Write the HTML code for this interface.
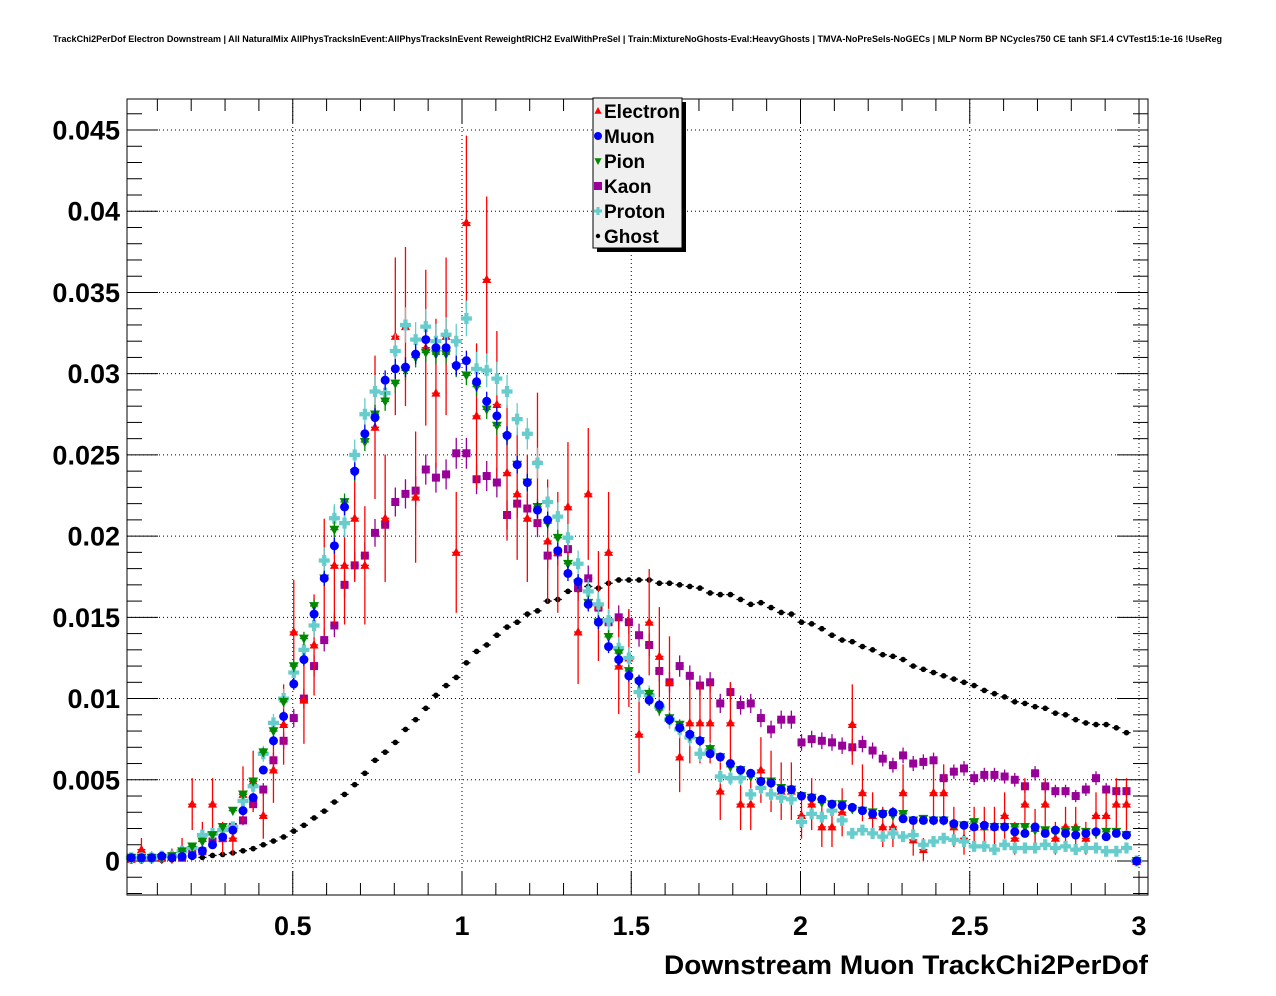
<!DOCTYPE html>
<html><head><meta charset="utf-8"><style>
html,body{margin:0;padding:0;background:#fff;}
svg{display:block;font-family:"Liberation Sans",sans-serif;}
</style></head><body>
<svg id="chart" width="1276" height="996" viewBox="0 0 1276 996">
<text x="53" y="42" textLength="1169" lengthAdjust="spacingAndGlyphs" font-size="9" font-weight="bold">TrackChi2PerDof Electron Downstream | All NaturalMix AllPhysTracksInEvent:AllPhysTracksInEvent ReweightRICH2 EvalWithPreSel | Train:MixtureNoGhosts-Eval:HeavyGhosts | TMVA-NoPreSels-NoGECs | MLP Norm BP NCycles750 CE tanh SF1.4 CVTest15:1e-16 !UseReg</text>
<g id="grid"></g>
<g id="axes"></g>
<g id="marks"></g>
<rect x="127" y="99" width="1021" height="796" fill="none" stroke="#000" stroke-width="1"/>
<text x="664" y="974" textLength="484" lengthAdjust="spacingAndGlyphs" font-size="27" font-weight="bold">Downstream Muon TrackChi2PerDof</text>
<g id="legend"></g>
</svg>
<script>
const NS="http://www.w3.org/2000/svg";
const electron=[.0001,.0007,.0002,.0002,.0003,.0007,.0035,.0014,.0035,.0014,.0014,.0041,.0049,.0028,.0056,.0084,.0141,.0099,.0133,.0175,.0182,.0182,.0211,.0182,.0267,.0211,.0323,.0329,.0224,.0316,.0288,.0323,.019,
.0393,.0274,.0358,.0281,.0239,.0226,.0211,.0246,.0197,.019,.0218,.0141,.0226,.0157,.019,.012,.0125,.0078,.0147,.0126,.011,.0064,.0085,.0085,.0085,.0043,.0085,.0035,.0035,.0056,.0049,.0043,.0043,
.0028,.0035,.0021,.0021,.003,.0084,.0042,.0028,.0021,.0021,.0042,.0013,.0007,.0042,.0042,.0021,.0014,.0021,.0021,.0021,.0028,.0014,.0035,.002,.0035,.0014,.0021,.0021,.0014,.0028,.0028,.0035,.0035,0];
const muon=[.0002,.0002,.0002,.0003,.0002,.00027,.00034,.00063,.001,.00148,.0019,.0031,.0039,.0056,.0074,.0089,.0109,.0124,.0152,.0174,.0194,.0218,.024,.0263,.0273,.0296,.0303,.0304,.0312,.0321,.0316,.0316,.0305,
.0308,.0295,.0283,.0274,.0262,.0244,.0233,.0216,.021,.0191,.0177,.0172,.0158,.0147,.0132,.0124,.0114,.0111,.0099,.0096,.0087,.0082,.0078,.0074,.0066,.0064,.006,.0056,.0054,.0049,.0048,.0044,.0044,
.004,.0039,.0038,.0035,.0034,.0033,.0031,.0029,.0029,.003,.0026,.0025,.0025,.0025,.0025,.0023,.0022,.0021,.0022,.0021,.0021,.0018,.0017,.0021,.0017,.0019,.0017,.0016,.0017,.0018,.0015,.0017,.0016,0];
const pion=[.0002,.0002,.0002,.0002,.0003,.0006,.0009,.0012,.0016,.0021,.0031,.0041,.0049,.0067,.008,.0098,.012,.0137,.0157,.0174,.0204,.0221,.0239,.0258,.0275,.0283,.0294,.0302,.031,.0313,.0312,.0312,.0304,
.0299,.0292,.0278,.0268,.0261,.0244,.0233,.0218,.0208,.0199,.0183,.0171,.0159,.0147,.0138,.0128,.0117,.011,.0103,.0093,.0088,.0084,.0077,.0074,.0069,.0064,.0058,.0056,.0052,.0049,.0049,.0045,.0044,
.004,.0039,.0036,.0035,.0035,.0032,.0031,.003,.0029,.0028,.0029,.0025,.0026,.0025,.0025,.0022,.0022,.0024,.0021,.0021,.0021,.0021,.0021,.0019,.0019,.0018,.0018,.0019,.0018,.0017,.0018,.0018,.0016,0];
const kaon=[.0002,.0002,.0002,.0002,.0003,.0002,.0007,.0006,.0012,.0014,.0021,.0025,.0035,.0044,.0062,.0074,.0088,.01,.012,.0136,.0145,.017,.0182,.0188,.0202,.0207,.0221,.0226,.0228,.0241,.0236,.0238,.0251,
.0251,.0235,.0237,.0233,.0213,.022,.0217,.0208,.0188,.019,.0192,.0168,.0174,.0156,.0147,.015,.0147,.0139,.0133,.0117,.011,.012,.0114,.0108,.011,.0097,.0104,.0096,.0097,.0088,.0081,.0087,.0087,
.0073,.0075,.0074,.0073,.0071,.007,.0072,.0068,.0063,.0059,.0065,.006,.0061,.0062,.0051,.0055,.0057,.0051,.0053,.0053,.0052,.005,.0046,.0054,.0046,.0043,.0043,.004,.0044,.0051,.0044,.0043,.0043,0];
const proton=[.0002,.0002,.0002,.0003,.0003,.0006,.0008,.0016,.0017,.0019,.0021,.0037,.0046,.0066,.0085,.01,.0116,.013,.0145,.0185,.0211,.0208,.025,.0275,.0289,.0288,.0314,.033,.0321,.0329,.032,.0324,.032,
.0334,.0303,.0302,.0297,.0289,.0272,.0263,.0245,.0221,.0212,.0199,.0183,.0166,.0158,.0148,.0131,.0125,.0104,.0102,.0095,.0087,.0081,.0076,.0066,.0068,.0052,.0051,.0051,.0041,.0045,.0041,.0039,.0038,
.0024,.0029,.0027,.0031,.0025,.0017,.0019,.0017,.0015,.0017,.0015,.0016,.001,.0012,.0014,.0013,.0012,.0009,.0009,.0007,.001,.0008,.0008,.0008,.001,.0008,.0009,.0007,.0008,.0008,.0006,.0006,.0008,0];
const ghost=[0,0,.00005,.00005,.00007,.00016,.00022,.00022,.00034,.0004,.0005,.00063,.00076,.001,.00123,.00148,.00184,.0022,.00265,.00307,.00363,.0041,.0047,.0054,.0062,.0067,.0073,.0081,.0087,.0094,.0102,.0108,.0113,
.0122,.0129,.0133,.0139,.0144,.0147,.0152,.0154,.016,.0161,.0166,.0167,.0169,.0168,.0171,.0173,.0173,.0173,.0173,.0171,.0171,.017,.0169,.0168,.0165,.0164,.0164,.0161,.0158,.0159,.0156,.0153,.0152,
.0147,.0146,.0143,.0139,.0136,.0135,.0132,.013,.0127,.0126,.0124,.012,.0118,.0116,.0114,.0112,.011,.0108,.0105,.0103,.0101,.0098,.0097,.0095,.0094,.0091,.009,.0087,.0085,.0084,.0084,.0082,.0079,0];
const yTicks=[0,0.005,0.01,0.015,0.02,0.025,0.03,0.035,0.04,0.045];
const yTickLabels=["0","0.005","0.01","0.015","0.02","0.025","0.03","0.035","0.04","0.045"];
const xTicks=[0.5,1,1.5,2,2.5,3];
const xTickLabels=["0.5","1","1.5","2","2.5","3"];
const legendNames=["Electron","Muon","Pion","Kaon","Proton","Ghost"];

const L=127,R=1148,T=99,B=895;
const X=v=>123.5+338.5*v;
const Y=v=>861-16244*v;
const binW=0.03, c0=0.023;
function el(tag,attrs,parent){const e=document.createElementNS(NS,tag);for(const k in attrs)e.setAttribute(k,attrs[k]);parent.appendChild(e);return e;}
const grid=document.getElementById('grid'),axes=document.getElementById('axes'),marks=document.getElementById('marks');
yTicks.forEach(v=>{const g=el('line',{x1:L,x2:R,y1:Y(v),y2:Y(v),stroke:'#000','stroke-dasharray':'1,3','stroke-width':1},grid);

});
xTicks.forEach(v=>{const g=el('line',{x1:X(v),x2:X(v),y1:T,y2:B,stroke:'#000','stroke-dasharray':'1,3','stroke-width':1},grid);

});
for(let k=-2;k<=46;k++){const v=k*0.001;const y=Y(v);if(y<T||y>B)continue;const major=k%5===0;
el('line',{x1:L,x2:L+(major?31:15),y1:y,y2:y,stroke:'#000'},axes);
el('line',{x1:R,x2:R-(major?31:15),y1:y,y2:y,stroke:'#000'},axes);}
yTicks.forEach((v,i)=>{const t=el('text',{x:120,y:Y(v)+9.5,'text-anchor':'end','font-size':27,'font-weight':'bold'},axes);t.textContent=yTickLabels[i];

});
for(let k=1;k<=30;k++){const v=k*0.1;const x=X(v);if(x<L||x>R)continue;const major=k%5===0;
el('line',{x1:x,x2:x,y1:B,y2:B-(major?24:12),stroke:'#000'},axes);
el('line',{x1:x,x2:x,y1:T,y2:T+(major?24:12),stroke:'#000'},axes);}
xTicks.forEach((v,i)=>{const t=el('text',{x:X(v),y:935,'text-anchor':'middle','font-size':27,'font-weight':'bold'},axes);t.textContent=xTickLabels[i];

});

function marker(kind,color,x,y,parent,s){
 let m;
 if(kind==='tri'){m=el('polygon',{points:`${x},${y-s} ${x-s*0.9},${y+s*0.7} ${x+s*0.9},${y+s*0.7}`,fill:color},parent);}
 else if(kind==='tridown'){m=el('polygon',{points:`${x},${y+s} ${x-s*0.9},${y-s*0.7} ${x+s*0.9},${y-s*0.7}`,fill:color},parent);}
 else if(kind==='circle'){m=el('circle',{cx:x,cy:y,r:s,fill:color},parent);}
 else if(kind==='square'){m=el('rect',{x:x-s,y:y-s,width:2*s,height:2*s,fill:color},parent);}
 else if(kind==='cross'){m=el('path',{d:`M${x-s},${y-s/2.6}h${s-s/2.6}v${-(s-s/2.6)}h${2*s/2.6}v${s-s/2.6}h${s-s/2.6}v${2*s/2.6}h${-(s-s/2.6)}v${s-s/2.6}h${-2*s/2.6}v${-(s-s/2.6)}h${-(s-s/2.6)}z`,fill:color},parent);}
 return m;
}
const series=[
 {name:'electron',data:electron,color:'#ff0000',kind:'tri',s:5,ef:0.027},
 {name:'muon',data:muon,color:'#0000ff',kind:'circle',s:4.5,ef:0.0035},
 {name:'pion',data:pion,color:'#008800',kind:'tridown',s:5.5,ef:0.0035},
 {name:'kaon',data:kaon,color:'#990099',kind:'square',s:4,ef:0.006},
 {name:'proton',data:proton,color:'#66cccc',kind:'cross',s:5.5,ef:0.006},
 {name:'ghost',data:ghost,color:'#000000',kind:'circle',s:2.8,ef:0.001}
];
const order=['ghost','kaon','electron','proton','pion','muon'];
order.forEach(nm=>{const sr=series.find(s=>s.name===nm);
 const g=el('g',{},marks);
 
 
 sr.data.forEach((v,i)=>{const c=c0+binW*i;const x=X(c),y=Y(v);
  const e=Math.sqrt(Math.max(v,0))*sr.ef;
  el('line',{x1:X(c-binW/2)+1,x2:X(c+binW/2)-1,y1:y,y2:y,stroke:sr.color,'stroke-width':1.3},g);
  if(e*16244>1) el('line',{x1:x,x2:x,y1:Y(v+e),y2:Y(Math.max(v-e,-0.002)),stroke:sr.color,'stroke-width':1.3},g);
  const m=marker(sr.kind,sr.color,x,y,g,sr.s);
  
  
 });
});
const lg=document.getElementById('legend');
el('rect',{x:597,y:102,width:89,height:150,fill:'#000'},lg);
el('rect',{x:593,y:98,width:89,height:150,fill:'#f0f0f0',stroke:'#000'},lg);
const legSer=['electron','muon','pion','kaon','proton','ghost'];
legendNames.forEach((n,i)=>{const sr=series.find(s=>s.name===legSer[i]);const y=111+25*i;
 const g=el('g',{},lg);
 
 
 marker(sr.kind,sr.color,598,y,g,sr.name==='ghost'?2.2:Math.min(sr.s,4));
 const t=el('text',{x:604,y:y+7,'font-size':19,'font-weight':'bold'},g);t.textContent=n;
});
</script>
</body></html>
